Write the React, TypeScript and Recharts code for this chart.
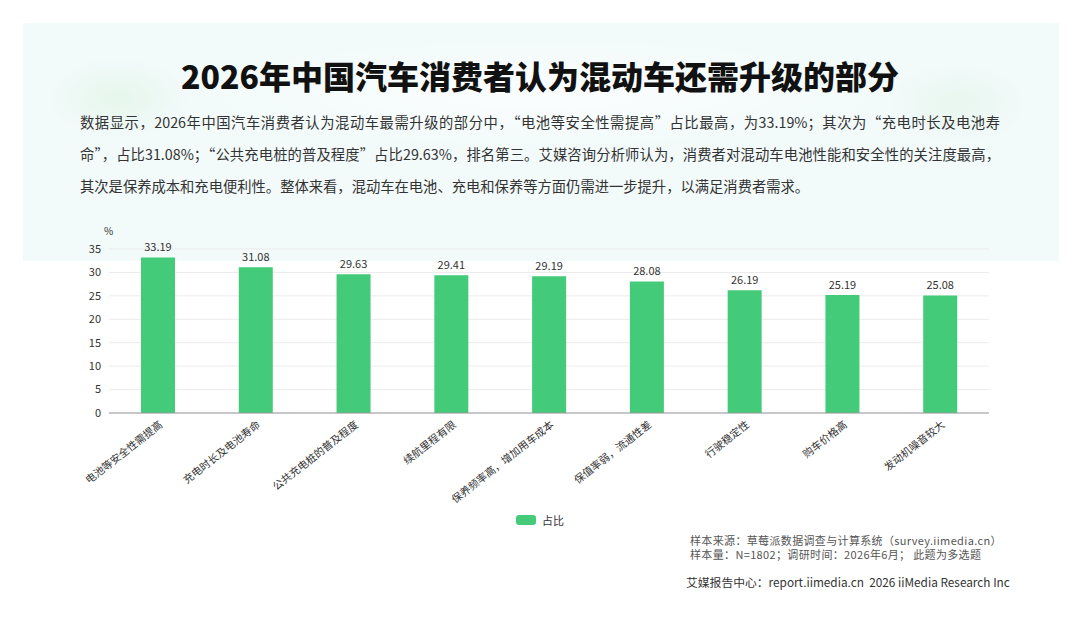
import React from "react";
import {
  BarChart,
  Bar,
  XAxis,
  YAxis,
  CartesianGrid,
  Legend,
  LabelList,
} from "recharts";

// 混动车还需升级的部分（%）
const categories = [
  "电池等安全性需提高",
  "充电时长及电池寿命",
  "公共充电桩的普及程度",
  "续航里程有限",
  "保养频率高，增加用车成本",
  "保值率弱，流通性差",
  "行驶稳定性",
  "购车价格高",
  "发动机噪音较大",
];
const shares = [33.19, 31.08, 29.63, 29.41, 29.19, 28.08, 26.19, 25.19, 25.08];
const yTicks = [0, 5, 10, 15, 20, 25, 30, 35];

const data = categories.map((name, i) => ({ name, value: shares[i] }));

const FONT = '"Noto Sans CJK SC", "Noto Sans", sans-serif';
const GREEN = "#43cb79";

const paragraph = [
  "数据显示，2026年中国汽车消费者认为混动车最需升级的部分中，“电池等安全性需提高”占比最高，为33.19%；其次为“充电时长及电池寿",
  "命”，占比31.08%；“公共充电桩的普及程度”占比29.63%，排名第三。艾媒咨询分析师认为，消费者对混动车电池性能和安全性的关注度最高，",
  "其次是保养成本和充电便利性。整体来看，混动车在电池、充电和保养等方面仍需进一步提升，以满足消费者需求。",
];

function AngledTick(props: any) {
  const { x, y, payload } = props;
  return (
    <g transform={`translate(${x + 3},${y + 2})`}>
      <text
        textAnchor="end"
        transform="rotate(-38)"
        fontSize={10.5}
        fill="#333"
        fontFamily={FONT}
        dy={4}
      >
        {payload.value}
      </text>
    </g>
  );
}

function LegendContent() {
  return (
    <div
      style={{
        display: "flex",
        alignItems: "center",
        justifyContent: "center",
        fontFamily: FONT,
        fontSize: 11,
        color: "#333",
      }}
    >
      <span
        style={{
          width: 20,
          height: 10,
          borderRadius: 3,
          background: GREEN,
          marginRight: 6,
          display: "inline-block",
        }}
      />
      占比
    </div>
  );
}

const footStyle: React.CSSProperties = {
  position: "absolute",
  left: 690,
  fontSize: 11,
  letterSpacing: 0.35,
  color: "#555",
  lineHeight: "12px",
  whiteSpace: "nowrap",
};

export default function App() {
  return (
    <div
      style={{
        position: "absolute",
        left: 0,
        top: 0,
        width: 1080,
        height: 623,
        background: "#fff",
        overflow: "hidden",
        fontFamily: FONT,
      }}
    >
      {/* pale header panel */}
      <div
        style={{
          position: "absolute",
          left: 23,
          top: 23,
          width: 1036,
          height: 238,
          background:
            "radial-gradient(ellipse 70px 40px at 95px 75px, rgba(215,242,218,0.45), rgba(215,242,218,0) 100%), radial-gradient(ellipse 70px 40px at 935px 80px, rgba(218,242,222,0.4), rgba(218,242,222,0) 100%), radial-gradient(ellipse 380px 60px at 520px 70px, rgba(255,255,255,0.7), rgba(255,255,255,0) 100%), #f2fafa",
        }}
      />
      <div
        style={{
          position: "absolute",
          left: 0,
          top: 54,
          width: 1080,
          textAlign: "center",
          fontSize: 32,
          fontWeight: 900,
          color: "#111",
          lineHeight: "42px",
        }}
      >
        2026年中国汽车消费者认为混动车还需升级的部分
      </div>
      <div
        style={{
          position: "absolute",
          left: 80,
          top: 106,
          width: 920,
          fontSize: 14.3,
          color: "#333",
          lineHeight: "32px",
        }}
      >
        {paragraph.map((line, i) => (
          <div
            key={i}
            style={{
              textAlign: i < 2 ? "justify" : "left",
              textAlignLast: i < 2 ? "justify" : "auto",
              whiteSpace: "nowrap",
            }}
          >
            {line}
          </div>
        ))}
      </div>

      <div
        style={{
          position: "absolute",
          left: 104,
          top: 225,
          fontSize: 10,
          color: "#333",
          lineHeight: "12px",
        }}
      >
        %
      </div>

      <div style={{ position: "absolute", left: 0, top: 0 }}>
        <BarChart
          width={1080}
          height={623}
          data={data}
          margin={{ top: 249, right: 91, bottom: 130, left: 59 }}
          barCategoryGap="32%"
        >
          <CartesianGrid vertical={false} stroke="#ebebeb" />
          <XAxis
            dataKey="name"
            interval={0}
            height={80}
            tick={<AngledTick />}
            tickLine={false}
            axisLine={{ stroke: "#999" }}
          />
          <YAxis
            width={50}
            domain={[0, 35]}
            ticks={yTicks}
            tickLine={false}
            axisLine={false}
            tick={{ fontSize: 11, fill: "#333", fontFamily: FONT }}
          />
          <Legend
            verticalAlign="middle"
            align="center"
            content={<LegendContent />}
            wrapperStyle={{ position: "absolute", top: 512, left: 0, width: 1080 }}
          />
          <Bar
            dataKey="value"
            name="占比"
            fill={GREEN}
            barSize={34}
            isAnimationActive={false}
          >
            <LabelList
              dataKey="value"
              position="top"
              offset={6}
              fontSize={11}
              fill="#333"
              fontFamily={FONT}
              formatter={(v: any) => Number(v).toFixed(2)}
            />
          </Bar>
        </BarChart>
      </div>

      <div style={{ ...footStyle, top: 534 }}>
        样本来源：草莓派数据调查与计算系统（survey.iimedia.cn）
      </div>
      <div style={{ ...footStyle, top: 548 }}>
        样本量：N=1802；调研时间：2026年6月； 此题为多选题
      </div>
      <div
        style={{
          position: "absolute",
          left: 686,
          top: 573,
          fontSize: 11.8,
          color: "#333",
          whiteSpace: "pre",
        }}
      >
        {"艾媒报告中心：report.iimedia.cn  2026 iiMedia Research Inc"}
      </div>
    </div>
  );
}
